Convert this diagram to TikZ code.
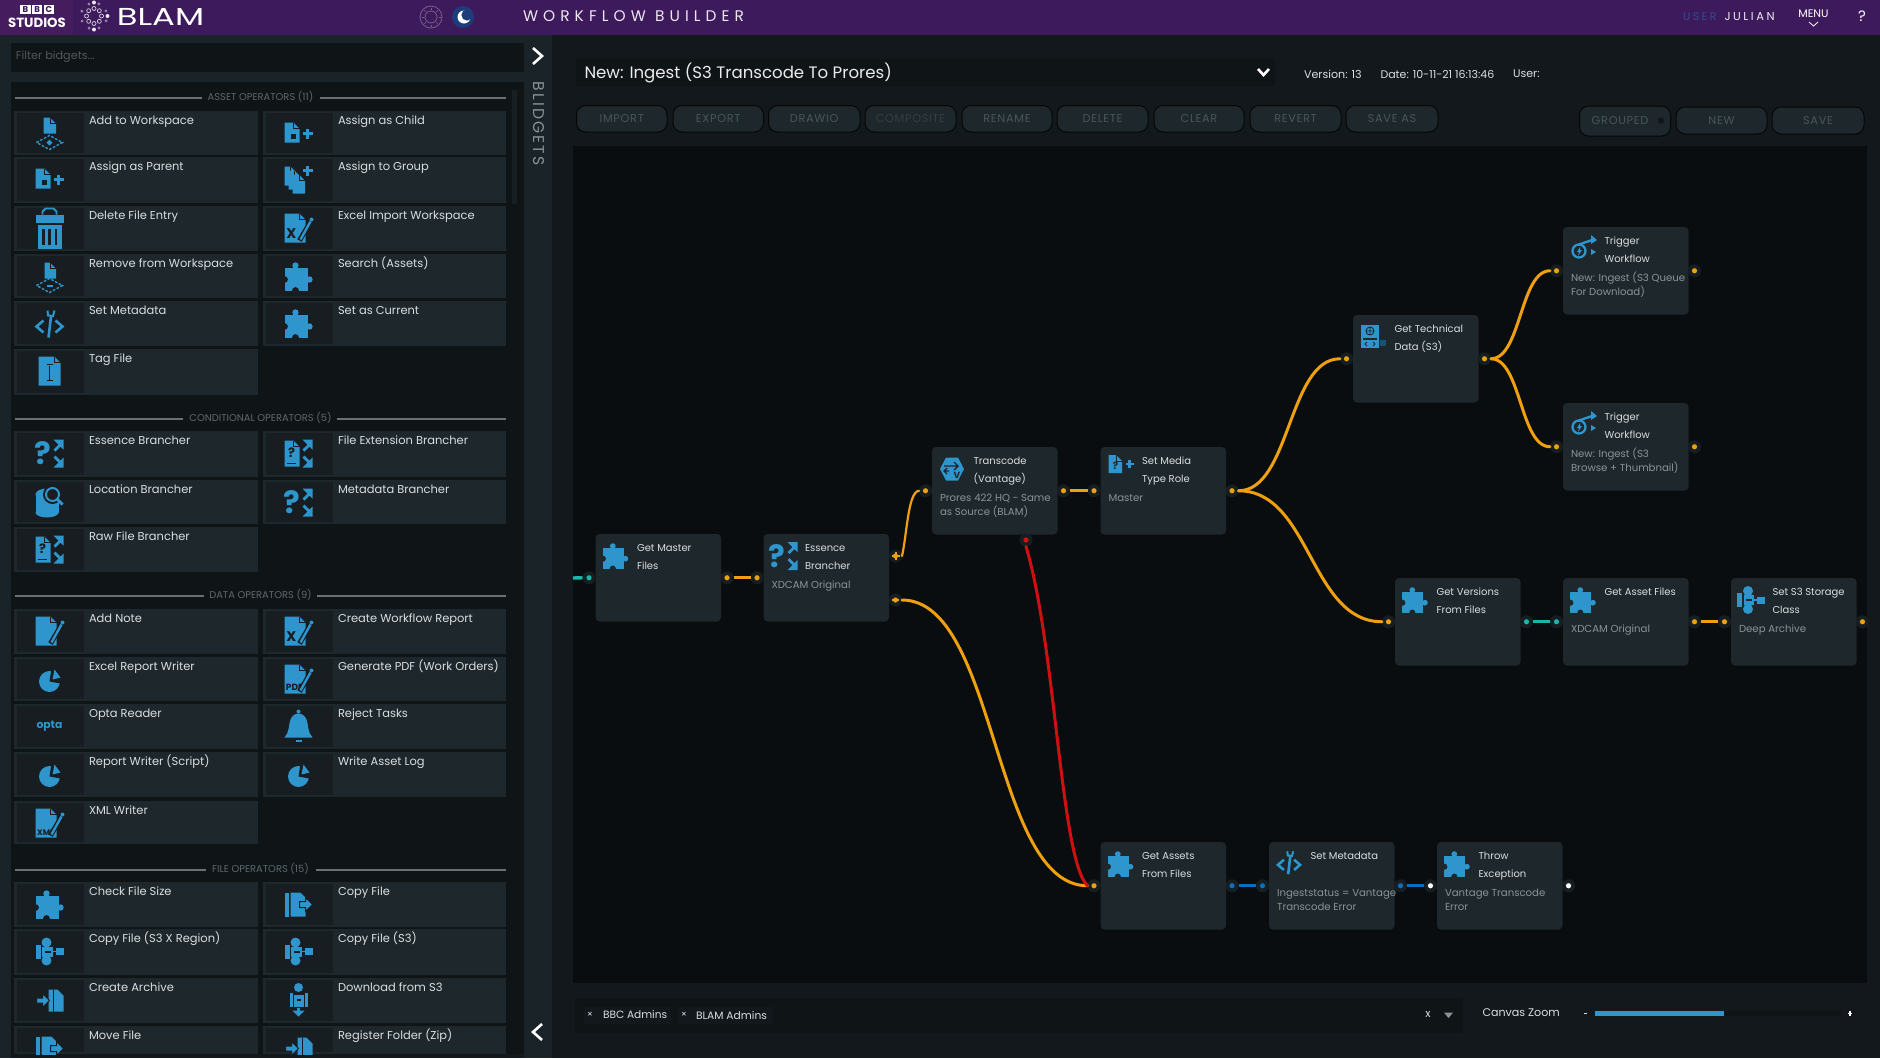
\documentclass[tikz,border=0pt]{standalone}
\usepackage{fontspec}
\setmainfont{Poppins}
\newfontfamily\spc[LetterSpace=14]{Poppins}
\newfontfamily\spcu[LetterSpace=22]{Poppins}
\newfontfamily\spcb[LetterSpace=6]{Poppins}
\newfontfamily\spcw[LetterSpace=33]{Poppins}
\usetikzlibrary{calc}
\newcommand{\fs}[1]{\fontsize{#1}{#1}\selectfont}
\definecolor{pagebg}{HTML}{12181B}
\definecolor{sidebg}{HTML}{1A2327}
\definecolor{panelbg}{HTML}{0F1417}
\definecolor{canvasbg}{HTML}{0A0D10}
\definecolor{barpurple}{HTML}{3D1A5B}
\definecolor{barleft}{HTML}{451C5E}
\definecolor{cardfill}{HTML}{1E272B}
\definecolor{iconarea}{HTML}{171D21}
\definecolor{nodefill}{HTML}{1E272B}
\definecolor{halo}{HTML}{161E22}
\definecolor{icblue}{HTML}{2E96CC}
\definecolor{wireor}{HTML}{EFA00F}
\definecolor{wirered}{HTML}{CE1012}
\definecolor{wireteal}{HTML}{19B5AD}
\definecolor{wireblue}{HTML}{0A6FC0}
\definecolor{lbl}{HTML}{D9DEE0}
\definecolor{subl}{HTML}{8A9497}
\definecolor{btntxt}{HTML}{46575B}
\definecolor{btndim}{HTML}{343F43}
\definecolor{heading}{HTML}{5E686B}
\definecolor{headline}{HTML}{6A7174}
\colorlet{icbg}{iconarea}
\newcommand{\icdoc}[4]{%
  \fill[icblue] (#1,#2) -- ({#3-6},#2) -- (#3,{#2+6}) -- (#3,#4) -- (#1,#4) -- cycle;
  \draw[icbg,line width=.8] ({#3-6},#2) -- ({#3-6},{#2+6}) -- (#3,{#2+6});}
\newcommand{\icpencil}{%
  \draw[icbg,line width=5] (1,12) -- (14,-10);
  \draw[icblue,line width=2.4] (2,11) -- (12,-7);
  \fill[icblue] (13,-9) circle (2);}
\newcommand{\icplus}[2]{%
  \fill[icblue] ({#1-5},{#2-1.7}) rectangle ({#1+5},{#2+1.7});
  \fill[icblue] ({#1-1.7},{#2-5}) rectangle ({#1+1.7},{#2+5});}
\newcommand{\icarrows}[1]{\begin{scope}[shift={(#1,0)}]
  \fill[icblue] (1,-14) -- (11,-14) -- (11,-4) -- (8,-7) -- (3,-2) -- (1,-4) -- (6,-9) -- cycle;
  \fill[icblue] (1,14) -- (11,14) -- (11,4) -- (8,7) -- (3,2) -- (1,4) -- (6,9) -- cycle;
  \end{scope}}
\newcommand{\icws}[3]{%
  \draw[icblue,line width=1.4,dash pattern=on 2.6 off 1.6] (-13,#1) -- (0,{#1-7}) -- (13,#1) -- (0,{#1+7}) -- cycle;
  #2}
\newcommand{\icpuzzle}{%
  \fill[icblue] (-14,-9) rectangle (9,14);
  \fill[icblue] (-3,-11) circle (3.2);
  \fill[icblue] (-5,-10) rectangle (-1,-8);
  \fill[icblue] (11,3) circle (3.2);
  \fill[icblue] (8,1) rectangle (10,5);
  \fill[icbg] (-14,3) circle (3.4);
  \fill[icbg] (-3,14) circle (3.4);}
\newcommand{\iccode}{%
  \draw[icblue,line width=2.6] (-6,-3) -- (-13,3) -- (-6,9);
  \draw[icblue,line width=2.6] (6,-3) -- (13,3) -- (6,9);
  \draw[icblue,line width=2.6] (-1,14) -- (1.5,-7);
  \draw[icblue,line width=2] (-2,-13) -- (-1.5,-8) -- (3.5,-7.5) -- (5,-13);}
\newcommand{\icsthree}{%
  \fill[icblue] (-14,-7) rectangle (-9,7);
  \fill[icblue] (-3,-9) circle (5);
  \fill[icblue] (-3,9) circle (5);
  \fill[icblue] (-7.5,-5) rectangle (3,5);
  \fill[icbg] (-8.5,-7) rectangle (-7.5,7);
  \fill[icbg] (-5,-1) rectangle (1,1);
  \fill[icblue] (6,-3.5) rectangle (14,3.5);
  \draw[icblue,line width=1.5] (3,0) -- (6,0);}
\tikzset{
 ic puzzle/.pic={\icpuzzle},
 ic puzzlen/.pic={\begin{scope}[scale=.9]\icpuzzle\end{scope}},
 ic addws/.pic={
  \icdoc{-6}{-16}{6.5}{0}
  \icws{9}{\fill[icblue] (0,6) -- (3,9) -- (0,12) -- (-3,9) -- cycle;}{}},
 ic removews/.pic={
  \icdoc{-5}{-14}{6.5}{2}
  \icws{9}{\fill[icblue] (-3,8) rectangle (3,10);}{}},
 ic docplus/.pic={
  \icdoc{-14}{-11}{1}{9}
  \fill[icbg] (-8,0) rectangle (-3,5);
  \icplus{9}{0}},
 ic docq/.pic={
  \icdoc{-12}{-14}{1.5}{4}
  \node[inner sep=0,text=icbg,font=\fs{10}\bfseries] (g) at (-5,-3) {?};
  \fill[icblue] (5,-6.2) rectangle (13,-3.8);
  \fill[icblue] (7.8,-9) rectangle (10.2,-1);},
 ic group/.pic={
  \icdoc{-14}{-13}{-2}{6}
  \icdoc{-10}{-9}{2}{10}
  \icdoc{-6}{-5}{6.5}{14}
  \icplus{9}{-9}},
 ic trash/.pic={
  \draw[icblue,line width=1.8] (-7,-14) -- (-7,-17) -- (-4,-20) -- (4,-20) -- (7,-17) -- (7,-14);
  \fill[icblue] (-14,-14) rectangle (14,-6);
  \fill[icblue] (-12,-4) rectangle (12,20);
  \fill[icbg] (-7.5,0) rectangle (-5,16);
  \fill[icbg] (-1.25,0) rectangle (1.25,16);
  \fill[icbg] (5,0) rectangle (7.5,16);},
 ic xledit/.pic={
  \icdoc{-14}{-15}{7}{14}
  \node[inner sep=0,text=icbg,font=\fs{14}\bfseries] (g) at (-7,5) {X};
  \icpencil},
 ic note/.pic={
  \icdoc{-14}{-15}{7}{14}
  \icpencil},
 ic pdf/.pic={
  \icdoc{-14}{-15}{7}{14}
  \node[inner sep=0,text=icbg,font=\fs{9}\bfseries] (g) at (-4,8) {PDF};
  \icpencil},
 ic xml/.pic={
  \icdoc{-14}{-15}{7}{14}
  \node[inner sep=0,text=icbg,font=\fs{8}\bfseries] (g) at (-4,9) {XML};
  \icpencil},
 ic code/.pic={\iccode},
 ic coden/.pic={\begin{scope}[scale=.85,shift={(0,-2)}]\iccode\end{scope}},
 ic tag/.pic={
  \icdoc{-11}{-15}{11}{14}
  \draw[icbg,line width=1] (0,-6) -- (0,8) (-3,-7) -- (3,-7) (-3,9) -- (3,9);},
 ic qbranch/.pic={
  \node[inner sep=0,text=icblue,font=\fs{31}\bfseries] (g) at (-7,0) {?};
  \icarrows{3}},
 ic filebranch/.pic={
  \icdoc{-14}{-13}{1}{13}
  \node[inner sep=0,text=icbg,font=\fs{13}\bfseries] (g) at (-7,-1) {?};
  \fill[icbg] (-12,9) rectangle (-3,10.5);
  \icarrows{3}},
 ic location/.pic={
  \fill[icblue] (-14,-8) rectangle (9,10);
  \fill[icblue] (-2.5,10) ellipse (11.5 and 5);
  \fill[icblue] (-2.5,-8) ellipse (11.5 and 6);
  \fill[icbg] (3,-8) circle (9.5);
  \draw[icblue,line width=2] (3,-8) circle (6.5);
  \draw[icblue,line width=3] (8,-3) -- (13,2);},
 ic pie/.pic={
  \fill[icblue] (0,2) circle (10.5);
  \fill[icbg] (0,2) -- (2,-11) -- (14,-6) -- (11,4) -- cycle;
  \fill[icblue] (3,0) -- (5,-10) -- (11,-2) -- cycle;},
 ic opta/.pic={
  \node[inner sep=0,text=icblue,font=\fs{10.8}\bfseries] (g) at (0,0) {opta};},
 ic bell/.pic={
  \fill[icblue] (0,-15) circle (2);
  \fill[icblue] (-14,11) .. controls (-9,6) and (-10,-2) .. (-8,-7) .. controls (-5,-15) and (5,-15) .. (8,-7) .. controls (10,-2) and (9,6) .. (14,11) -- cycle;
  \fill[icblue] (-3,13) rectangle (3,15);},
 ic copy/.pic={
  \fill[icblue] (-14,-12) rectangle (-10,12);
  \fill[icblue] (-8,-12) -- (2,-12) -- (7,-7) -- (7,12) -- (-8,12) -- cycle;
  \filldraw[fill=icblue,draw=icbg,line width=1] (1,-3) -- (7,-3) -- (7,-7) -- (14,0) -- (7,7) -- (7,3) -- (1,3) -- cycle;},
 ic sthree/.pic={\icsthree},
 ic archive/.pic={
  \fill[icblue] (-1,-11) -- (8,-11) -- (14,-5) -- (14,11) -- (-1,11) -- cycle;
  \fill[icbg] (3,-11) rectangle (4,11);
  \filldraw[fill=icblue,draw=icbg,line width=1] (-13,-2.5) -- (-7,-2.5) -- (-7,-7) -- (0,0) -- (-7,7) -- (-7,2.5) -- (-13,2.5) -- cycle;},
 ic download/.pic={
  \fill[icblue] (0,-13) circle (4.5);
  \fill[icblue] (-9,-8) rectangle (-6,6);
  \fill[icblue] (6,-8) rectangle (9,6);
  \fill[icblue] (-5,-6) rectangle (5,6);
  \fill[icbg] (-2,-2) rectangle (2,0);
  \fill[icblue] (-1.5,7) rectangle (1.5,11);
  \fill[icblue] (-6,10) -- (6,10) -- (0,16) -- cycle;},
 ic vantage/.pic={
  \fill[icblue] (-12,0) -- (-6,-11.5) -- (6,-11.5) -- (12,0) -- (6,11.5) -- (-6,11.5) -- cycle;
  \draw[icbg,line width=1.4] (-8,-3) -- (6,-3) (2,-7) -- (6,-3) -- (2,1) (-8,2) -- (-3,2) (-5,-1) -- (-8,2) -- (-5,5);
  \node[inner sep=0,text=icbg,font=\fs{9}\bfseries] (g) at (5,6) {V};},
 ic tech/.pic={
  \fill[icblue] (-12,-12) rectangle (6,11);
  \draw[icbg,line width=.9] (-3,-6) circle (4) (-3,-10) -- (-3,-2) (-7,-6) -- (1,-6);
  \fill[icbg] (-10,1) rectangle (4,3);
  \draw[icbg,line width=.9] (-6,5) -- (-8,7) -- (-6,9) (0,5) -- (2,7) -- (0,9);
  \fill[icblue!55!black] (7,3) rectangle (13,9);},
 ic trigger/.pic={
  \draw[icblue,line width=2.3] (-4,2) circle (6.5);
  \draw[icblue,line width=2.3] (-4,-4.5) -- (9,-9);
  \fill[icblue] (8,-14) -- (14,-9) -- (8,-5) -- cycle;
  \fill[icblue] (8,0) -- (13,3) -- (8,6) -- cycle;
  \fill[icblue] (-3,-2) -- (-6,3) -- (-4,3) -- (-5,7) -- (-1,1) -- (-3,1) -- cycle;},
 cardbox/.style={fill=cardfill,draw=none,inner sep=0,outer sep=0},
 cardlab/.style={anchor=base west,inner sep=0,outer sep=0,text=lbl,font=\fs{11.45}},
 wfbox/.style={fill=nodefill,draw=none,rounded corners=4,minimum width=125.5,minimum height=87.5,inner sep=0,outer sep=0},
 ttl/.style={anchor=base west,inner sep=0,outer sep=0,text=lbl,font=\fs{10}},
 subt/.style={anchor=base west,inner sep=0,outer sep=0,text=subl,font=\fs{10.15}},
 port/.style={circle,minimum size=13,inner sep=0,outer sep=0,fill=halo,path picture={\fill[#1] (path picture bounding box.center) circle (2.6);}},
 wire/.style={line width=3,line cap=round},
 stub/.style={line width=3.4},
 btn/.style={fill=cardfill,draw=black!70!pagebg,line width=1,rounded corners=9,inner sep=0,text=btntxt,font=\spcb\fs{11.3}},
 plain/.style={inner sep=0,outer sep=0},
}
\newcommand{\card}[7]{%
  \node[cardbox,anchor=north west,minimum width=#3,minimum height={#5-#4}] (#1) at (#2,#4) {};
  \fill[iconarea] ({#2+3},{#4+2}) rectangle ({#2+70},{#5-2});
  \pic at ({#2+35.5},{#4+22.5}) {#6};
  \node[cardlab] (#1-l) at ({#2+75},{#4+13.2}) {#7};}
\newcommand{\cardL}[5]{\card{#1}{14}{243.5}{#2}{#3}{#4}{#5}}
\newcommand{\cardR}[5]{\card{#1}{263}{243}{#2}{#3}{#4}{#5}}
\newcommand{\sect}[5]{%
  \node[plain,text=heading,font=\fs{9.9}] (#1) at (260.5,{#2-1.5}) {#3};
  \draw[headline,line width=1.1] (15,#2) -- (#4,#2);
  \draw[headline,line width=1.1] (#5,#2) -- (506,#2);}
\newcommand{\wf}[6]{%
  \node[wfbox,anchor=north west] (#1) at (#2,#3) {};
  \pic at ({#2+20},{#3+22}) {#4};
  \node[ttl] (#1-a) at ({#2+41.5},{#3+17}) {#5};
  \if\relax\detokenize{#6}\relax\else\node[ttl] (#1-b) at ({#2+41.5},{#3+35}) {#6};\fi}
\newcommand{\wfsub}[4]{%
  \node[subt] (#1-c) at ({#2+8},{#3+54}) {#4};}
\newcommand{\wfsubb}[4]{%
  \node[subt] (#1-d) at ({#2+8},{#3+68}) {#4};}
\newcommand{\inport}[2]{\node[port=#2] (#1-in) at ([xshift=-6.5pt]#1.west) {};}
\newcommand{\outport}[2]{\node[port=#2] (#1-out) at ([xshift=6pt]#1.east) {};}
\newcommand{\btnn}[6]{%
  \node[btn,minimum width={#3-#2},minimum height={#5-#4}] (#1) at ({(#2+#3)/2},{(#4+#5)/2}) {#6};}
\begin{document}
\begin{tikzpicture}[x=1pt,y=-1pt]
\useasboundingbox (0,0) rectangle (1880,1058);
\fill[pagebg] (0,0) rectangle (1880,1058);
\fill[sidebg] (0,35) rectangle (11,1058);
\fill[sidebg] (524,35) rectangle (552,1058);
\fill[sidebg] (11,35) rectangle (524,82);
\fill[panelbg] (11,43) rectangle (524,72);
\fill[panelbg] (11,82) rectangle (524,1054);
\fill[canvasbg] (573,146) rectangle (1867,983);
% top bar
\fill[barpurple] (0,0) rectangle (1880,35);
\fill[barleft] (0,0) rectangle (73,35);
\foreach \nm/\xx/\tt in {bb/20/B,bc/31.7/B,bd/43.4/C}{
  \node[fill=white,minimum width=10.5,minimum height=9.5,inner sep=0,anchor=north west,text=barpurple,font=\fs{8.5}\bfseries] (\nm) at (\xx,4.6) {\tt};
}
\node[plain,text=white,font=\fs{13.3}\bfseries] (studios) at (37,22.5) {STUDIOS};
\foreach \a in {0,45,...,315}{
  \draw[white!80!barpurple,line width=.7] (94,16) ++(\a:7.5) circle (2);
}
\foreach \a in {22,67,...,337}{
  \fill[white!45!barpurple] (94,16) ++(\a:13) circle (1.6);
}
\fill[white!90!barpurple] (94,2.5) circle (2) (94,29.5) circle (2) (107.5,16) circle (2);
\node[plain,text=white,font=\fs{24.5},xscale=1.38] (blam) at (160.5,17) {BLAM};
\draw[white!30!barpurple,line width=.8] (431,17) circle (11) (431,17) circle (6);
\foreach \a in {0,45,...,315}{\draw[white!30!barpurple,line width=.7] (431,17) ++(\a:7.5) -- ++(\a:2);}
\fill[black!25!wireblue!60!barpurple] (463,17) circle (11);
\fill[white] (464,17) circle (6.5);
\fill[black!25!wireblue!60!barpurple] (467,15) circle (5.6);
\node[plain,anchor=west,text=white!90!barpurple,font=\spcw\fs{15.4}] (title) at (523,16.5) {WORKFLOW BUILDER};
\node[plain,anchor=west,text=white!10!barpurple!55!wireblue,font=\spcu\fs{11}] (userl) at (1683,16.5) {USER};
\node[plain,anchor=west,text=white!90!barpurple,font=\spcu\fs{11.5}] (usern) at (1724.5,16.5) {JULIAN};
\node[plain,text=white,font=\fs{11}] (menu) at (1813.5,14) {MENU};
\draw[white,line width=.8] (1809,22) -- (1813.5,26) -- (1818,22);
\node[plain,text=white,font=\fs{15}] (help) at (1862,16.5) {?};
% sidebar chrome
\node[plain,anchor=west,text=heading!85!black,font=\fs{11.2}] (filter) at (16,57) {Filter bidgets...};
\draw[white,line width=2.6] (533,48) -- (542,56) -- (533,64);
\draw[white,line width=2.6] (542,1024) -- (533,1032) -- (542,1040);
\node[plain,rotate=-90,text=subl,font=\spc\fs{15.6}] (blidgets) at (539,123.5) {BLIDGETS};
\fill[sidebg!70!panelbg] (512,90) rectangle (517,204);
% cards
\begin{scope}
\clip (0,0) rectangle (560,1054);
\sect{secA}{98}{ASSET OPERATORS (11)}{202}{320}
\cardL{c1}{111}{155}{ic addws}{Add to Workspace}
\cardR{c2}{111}{155}{ic docplus}{Assign as Child}
\cardL{c3}{157}{203}{ic docplus}{Assign as Parent}
\cardR{c4}{157}{203}{ic group}{Assign to Group}
\cardL{c5}{206}{251}{ic trash}{Delete File Entry}
\cardR{c6}{206}{251}{ic xledit}{Excel Import Workspace}
\cardL{c7}{254}{298}{ic removews}{Remove from Workspace}
\cardR{c8}{254}{298}{ic puzzle}{Search (Assets)}
\cardL{c9}{301}{346}{ic code}{Set Metadata}
\cardR{c10}{301}{346}{ic puzzle}{Set as Current}
\cardL{c11}{349}{395}{ic tag}{Tag File}
\sect{secB}{419}{CONDITIONAL OPERATORS (5)}{183}{337}
\cardL{c12}{431}{477}{ic qbranch}{Essence Brancher}
\cardR{c13}{431}{477}{ic filebranch}{File Extension Brancher}
\cardL{c14}{480}{524}{ic location}{Location Brancher}
\cardR{c15}{480}{524}{ic qbranch}{Metadata Brancher}
\cardL{c16}{527}{572}{ic filebranch}{Raw File Brancher}
\sect{secC}{596}{DATA OPERATORS (9)}{204}{317}
\cardL{c17}{609}{654}{ic note}{Add Note}
\cardR{c18}{609}{654}{ic xledit}{Create Workflow Report}
\cardL{c19}{657}{701}{ic pie}{Excel Report Writer}
\cardR{c20}{657}{701}{ic pdf}{Generate PDF (Work Orders)}
\cardL{c21}{704}{749}{ic opta}{Opta Reader}
\cardR{c22}{704}{749}{ic bell}{Reject Tasks}
\cardL{c23}{752}{797}{ic pie}{Report Writer (Script)}
\cardR{c24}{752}{797}{ic pie}{Write Asset Log}
\cardL{c25}{801}{844}{ic xml}{XML Writer}
\sect{secD}{870}{FILE OPERATORS (15)}{206}{316}
\cardL{c26}{882}{927}{ic puzzle}{Check File Size}
\cardR{c27}{882}{927}{ic copy}{Copy File}
\cardL{c28}{929}{975}{ic sthree}{Copy File (S3 X Region)}
\cardR{c29}{929}{975}{ic sthree}{Copy File (S3)}
\cardL{c30}{978}{1023}{ic archive}{Create Archive}
\cardR{c31}{978}{1023}{ic download}{Download from S3}
\cardL{c32}{1026}{1054}{ic copy}{Move File}
\cardR{c33}{1026}{1054}{ic archive}{Register Folder (Zip)}
\end{scope}
% header controls
\fill[panelbg] (575.5,59) rectangle (1275,86);
\node[plain,anchor=west,text=white!92!black,font=\fs{16.6}] (wfname) at (584.5,72.5) {New: Ingest (S3 Transcode To Prores)};
\draw[white,line width=2.6] (1258,69) -- (1263.5,75) -- (1269,69);
\node[plain,anchor=west,text=lbl,font=\fs{11.1}] (ver) at (1304,74) {Version: 13};
\node[plain,anchor=west,text=lbl,font=\fs{11}] (date) at (1380.5,74) {Date: 10-11-21 16:13:46};
\node[plain,anchor=west,text=lbl,font=\fs{11.1}] (usr) at (1513,74) {User:};
\btnn{b1}{576.5}{667}{105.5}{132}{IMPORT}
\btnn{b2}{673}{763.5}{105.5}{132}{EXPORT}
\btnn{b3}{768.5}{860}{105.5}{132}{DRAWIO}
\node[btn,text=btndim,minimum width=91,minimum height=26.5] (b4) at (910.5,118.75) {COMPOSITE};
\btnn{b5}{962}{1052}{105.5}{132}{RENAME}
\btnn{b6}{1057}{1148}{105.5}{132}{DELETE}
\btnn{b7}{1154}{1244}{105.5}{132}{CLEAR}
\btnn{b8}{1250}{1341}{105.5}{132}{REVERT}
\btnn{b9}{1346}{1438}{105.5}{132}{SAVE AS}
\node[btn,minimum width=91,minimum height=30] (b10) at (1625,121) {};
\node[plain,text=btntxt,font=\spcb\fs{11.3}] (b10t) at (1620,120.5) {GROUPED};
\filldraw[fill=black!50!cardfill,draw=black!30!cardfill,line width=1] (1661,120.5) circle (2.8);
\btnn{b11}{1676}{1767}{107}{134}{NEW}
\btnn{b12}{1772}{1864}{107}{134}{SAVE}
% workflow nodes
\colorlet{icbg}{nodefill}
\wf{gm}{595.5}{534}{ic puzzlen}{Get Master}{Files}
\wf{eb}{763.5}{534}{ic qbranch}{Essence}{Brancher}
\wfsub{eb}{763.5}{534}{XDCAM Original}
\wf{tc}{932}{447}{ic vantage}{Transcode}{(Vantage)}
\wfsub{tc}{932}{447}{Prores 422 HQ - Same}
\wfsubb{tc}{932}{447}{as Source (BLAM)}
\wf{sm}{1100.5}{447}{ic docq}{Set Media}{Type Role}
\wfsub{sm}{1100.5}{447}{Master}
\wf{gt}{1353}{315}{ic tech}{Get Technical}{Data (S3)}
\wf{t1}{1563}{227}{ic trigger}{Trigger}{Workflow}
\wfsub{t1}{1563}{227}{New: Ingest (S3 Queue}
\wfsubb{t1}{1563}{227}{For Download)}
\wf{t2}{1563}{403}{ic trigger}{Trigger}{Workflow}
\wfsub{t2}{1563}{403}{New: Ingest (S3}
\wfsubb{t2}{1563}{403}{Browse + Thumbnail)}
\wf{gv}{1395}{578}{ic puzzlen}{Get Versions}{From Files}
\wf{ga}{1563}{578}{ic puzzlen}{Get Asset Files}{}
\wfsub{ga}{1563}{578}{XDCAM Original}
\wf{ss}{1731}{578}{ic sthree}{Set S3 Storage}{Class}
\wfsub{ss}{1731}{578}{Deep Archive}
\wf{gf}{1100.5}{842}{ic puzzlen}{Get Assets}{From Files}
\wf{md}{1269}{842}{ic coden}{Set Metadata}{}
\wfsub{md}{1269}{842}{Ingeststatus = Vantage}
\wfsubb{md}{1269}{842}{Transcode Error}
\wf{te}{1437}{842}{ic puzzlen}{Throw}{Exception}
\wfsub{te}{1437}{842}{Vantage Transcode}
\wfsubb{te}{1437}{842}{Error}
% ports
\inport{gm}{wireteal}\outport{gm}{wireor}
\inport{eb}{wireor}
\node[port=wireor] (eb-plus) at (895.5,556) {};
\node[port=wireor] (eb-minus) at (895.5,600) {};
\fill[wireor] (891.5,555) rectangle (899.5,557);
\fill[wireor] (894.5,552) rectangle (896.5,560);
\fill[wireor] (892,599) rectangle (899,601);
\inport{tc}{wireor}\outport{tc}{wireor}
\node[port=wirered] (tc-err) at (1026,540) {};
\inport{sm}{wireor}\outport{sm}{wireor}
\inport{gt}{wireor}\outport{gt}{wireor}
\inport{t1}{wireor}\outport{t1}{wireor}
\inport{t2}{wireor}\outport{t2}{wireor}
\inport{gv}{wireor}\outport{gv}{wireteal}
\inport{ga}{wireteal}\outport{ga}{wireor}
\inport{ss}{wireor}\outport{ss}{wireor}
\inport{gf}{wireor}\outport{gf}{wireblue}
\inport{md}{wireblue}\outport{md}{wireblue}
\inport{te}{white}\outport{te}{white}
% connectors
\coordinate (start) at (573,578);
\draw[stub,wireteal] (start) -- (gm-in.west);
\draw[stub,wireor] (gm-out.east) -- (eb-in.west);
\draw[stub,wireor] (tc-out.east) -- (sm-in.west);
\draw[stub,wireteal] (gv-out.east) -- (ga-in.west);
\draw[stub,wireor] (ga-out.east) -- (ss-in.west);
\draw[stub,wireblue] (gf-out.east) -- (md-in.west);
\draw[stub,wireblue] (md-out.east) -- (te-in.west);
\draw[wire,wireor,line width=2.2] (eb-plus.east) .. controls +(5,-22) and +(-11,1) .. (tc-in.west);
\draw[wire,wireor] (sm-out.east) .. controls +(52,0) and +(-52,0) .. (gt-in.west);
\draw[wire,wireor] (sm-out.east) .. controls +(72,0) and +(-72,0) .. (gv-in.west);
\draw[wire,wireor] (gt-out.east) .. controls +(30,0) and +(-30,0) .. (t1-in.west);
\draw[wire,wireor] (gt-out.east) .. controls +(30,0) and +(-30,0) .. (t2-in.west);
\draw[wire,wireor] (eb-minus.east) .. controls +(95,0) and +(-95,0) .. (gf-in.west);
\draw[wire,wirered] (tc-err.south) .. controls +(30,100) and +(-27,-26) .. (gf-in.west);
% footer
\fill[panelbg] (575,998) rectangle (1463,1033);
\fill[pagebg] (583.5,1007) rectangle (671,1024);
\fill[pagebg] (678,1007) rectangle (773,1024);
\node[plain,text=lbl,font=\fs{9}] (x1) at (590,1015) {×};
\node[plain,anchor=west,text=lbl,font=\fs{10.6}] (tag1) at (603,1015) {BBC Admins};
\node[plain,text=lbl,font=\fs{9}] (x2) at (684,1015) {×};
\node[plain,anchor=west,text=lbl,font=\fs{10.7}] (tag2) at (696,1015) {BLAM Admins};
\node[plain,text=lbl,font=\fs{11}] (clr) at (1428,1014) {x};
\fill[subl] (1444,1012.5) -- (1453,1012.5) -- (1448.5,1018) -- cycle;
\node[plain,anchor=west,text=lbl,font=\fs{11.1}] (czoom) at (1482.5,1013) {Canvas Zoom};
\fill[lbl] (1583.5,1012.5) rectangle (1586.5,1014);
\fill[panelbg] (1595,1011) rectangle (1841,1016);
\fill[icblue] (1595,1011) rectangle (1724,1016);
\fill[white] (1848,1012.5) rectangle (1852,1014);
\fill[white] (1849.2,1011) rectangle (1850.8,1015.5);
\end{tikzpicture}
\end{document}
